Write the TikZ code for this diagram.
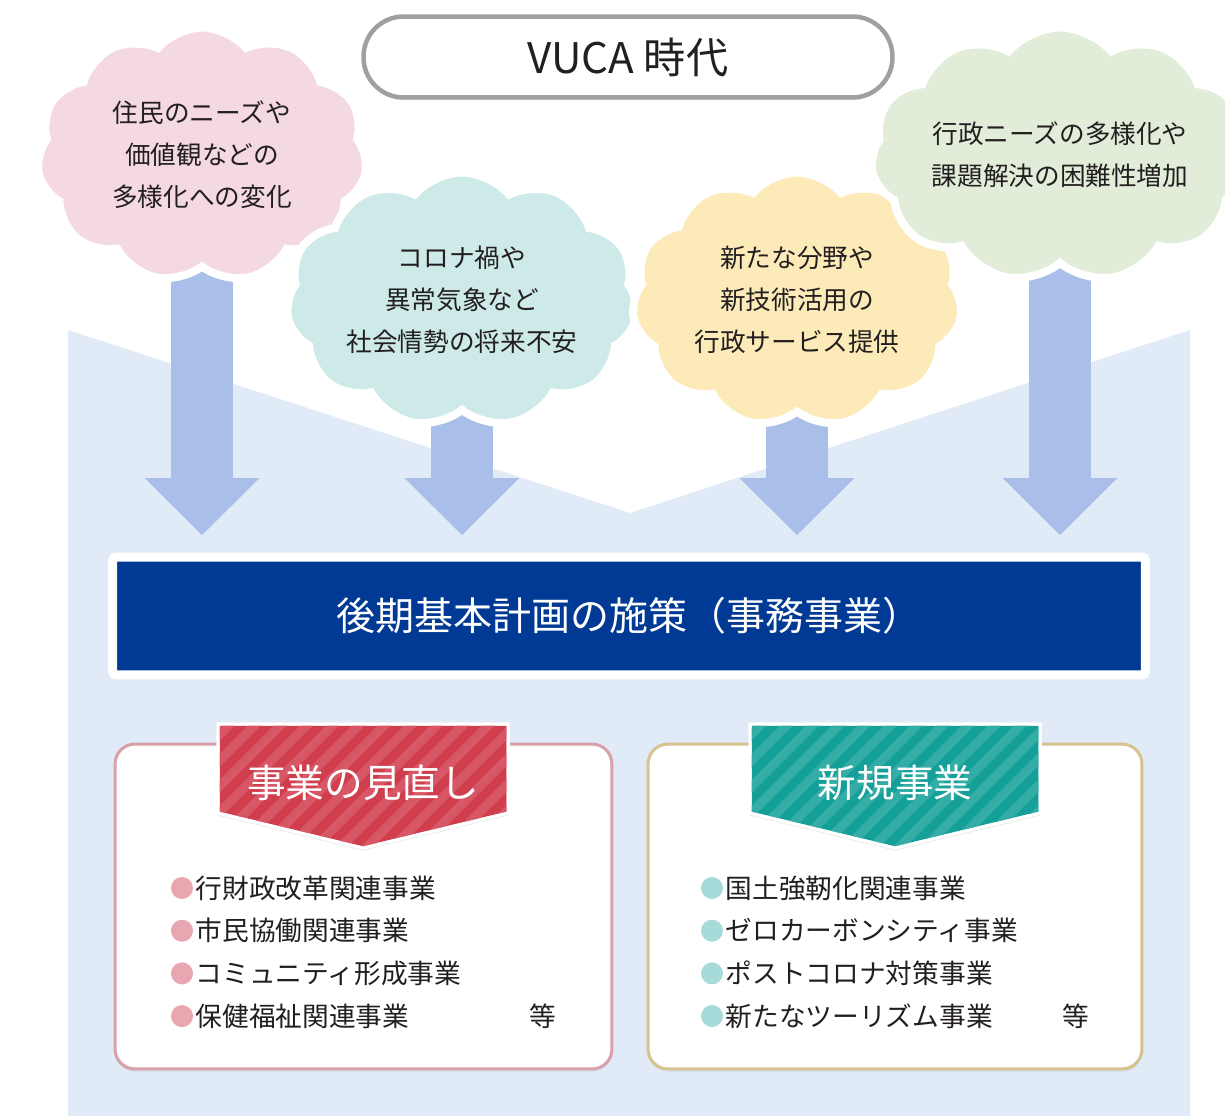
\documentclass[tikz,border=0pt]{standalone}
\usepackage{fontspec}
\setmainfont{Noto Sans CJK JP}
\usepackage{xcolor}
\usepackage{tikz}
\usetikzlibrary{shapes.symbols,arrows.meta,positioning,shadows,backgrounds}

\definecolor{ink}{HTML}{231F20}
\definecolor{skyback}{HTML}{E1EAF7}
\definecolor{flowblue}{HTML}{A9BEE8}
\definecolor{vucagray}{HTML}{A0A0A0}
\definecolor{cloudpink}{HTML}{F4D9E3}
\definecolor{cloudteal}{HTML}{CDEAE9}
\definecolor{cloudyellow}{HTML}{FCEBB8}
\definecolor{cloudgreen}{HTML}{E1EDD9}
\definecolor{plannavy}{HTML}{003A94}
\definecolor{revred}{HTML}{D03E4E}
\definecolor{revstripe}{HTML}{D75766}
\definecolor{newteal}{HTML}{14A099}
\definecolor{newstripe}{HTML}{33ADA6}
\definecolor{revline}{HTML}{D8A0A8}
\definecolor{newline}{HTML}{D6C38E}
\definecolor{revdot}{HTML}{E8A7B0}
\definecolor{newdot}{HTML}{A6DBDA}

\begin{document}
\begin{tikzpicture}[
  x=0.02cm, y=-0.02cm,
  softshadow/.style={
    drop shadow={opacity=0.15, shadow xshift=0pt, shadow yshift=-1.5pt}
  },
  cloudbox/.style={
    cloud,
    cloud puffs=11,
    cloud puff arc=100,
    cloud ignores aspect,
    minimum width=6.6cm,
    minimum height=5.1cm,
    draw=white,
    line width=0.16cm,
    align=center,
    text=ink,
    softshadow,
    font=\fontsize{14.6}{23.9}\selectfont
  },
  vucabox/.style={
    rectangle,
    rounded corners=0.8cm,
    draw=vucagray,
    line width=0.09cm,
    fill=white,
    minimum width=10.58cm,
    minimum height=1.62cm,
    text=ink,
    softshadow,
    font=\fontsize{24}{28}\selectfont
  },
  planbar/.style={
    rectangle,
    rounded corners=2pt,
    fill=plannavy,
    draw=white,
    line width=0.18cm,
    minimum width=20.66cm,
    minimum height=2.36cm,
    text=white,
    softshadow,
    font=\fontsize{22.2}{26}\selectfont
  },
  listbox/.style={
    rectangle,
    rounded corners=0.4cm,
    fill=white,
    line width=0.06cm,
    minimum height=6.5cm,
    softshadow
  },
  ribbontext/.style={
    text=white,
    font=\fontsize{22}{26}\selectfont
  },
  ribbonstripe/.style={
    line width=0.18cm
  },
  dot/.style={
    circle,
    inner sep=0pt,
    minimum size=0.44cm
  },
  item/.style={
    inner sep=0pt,
    text=ink,
    font=\fontsize{15.2}{18}\selectfont
  },
  flow/.style={
    flowblue,
    line width=1.24cm,
    -{Triangle[width=2.3cm,length=1.14cm,line width=0pt]}
  }
]
\useasboundingbox (0,0) rectangle (1225,1116);

% --- VUCA TITLE ---
\node[vucabox] (vuca) at (628,57) {VUCA 時代};

% --- CLOUDS ---
\node[cloudbox, fill=cloudpink] (needs) at (202,155) {住民のニーズや\\価値観などの\\多様化への変化};
\node[cloudbox, fill=cloudteal] (unrest) at (462,300) {コロナ禍や\\異常気象など\\社会情勢の将来不安};
\node[cloudbox, fill=cloudyellow] (tech) at (797,300) {新たな分野や\\新技術活用の\\行政サービス提供};
\node[cloudbox, fill=cloudgreen] (admin) at (1060,155) {行政ニーズの多様化や\\課題解決の困難性増加};

% --- PLAN BAR ---
\node[planbar] (plan) at (629,616) {後期基本計画の施策（事務事業）};
\coordinate (tipline) at (0,535);

% --- BACKGROUND AND FLOW ARROWS ---
\begin{scope}[on background layer]
  \fill[white] (0,0) rectangle (1225,1116);
  \fill[skyback] (68,330) -- (630,513) -- (1190,330) -- (1190,1116) -- (68,1116) -- cycle;
  \draw[flow] (needs.center) -- (needs.center |- tipline);
  \draw[flow] (unrest.center) -- (unrest.center |- tipline);
  \draw[flow] (tech.center) -- (tech.center |- tipline);
  \draw[flow] (admin.center) -- (admin.center |- tipline);
\end{scope}

% --- REVIEW BOX (Left) ---
\node[listbox, draw=revline, minimum width=9.94cm] (revbox) at (363.5,906.5) {};
\filldraw[revred, draw=white, line width=0.06cm, softshadow]
  (218,724) -- (508,724) -- (508,813) -- (363,848) -- (218,813) -- cycle;
\begin{scope}
  \clip (218,724) -- (508,724) -- (508,813) -- (363,848) -- (218,813) -- cycle;
  \foreach \s in {58,84,...,520}
    \draw[ribbonstripe, revstripe] (\s,870) -- ++(160,-160);
\end{scope}
\draw[white, line width=0.06cm]
  (218,724) -- (508,724) -- (508,813) -- (363,848) -- (218,813) -- cycle;
\node[ribbontext] (revtitle) at (363,783) {事業の見直し};

\foreach \t [count=\i] in {行財政改革関連事業, 市民協働関連事業, コミュニティ形成事業, 保健福祉関連事業} {
  \node[dot, fill=revdot] (revdot\i) at (182,{888+42.7*(\i-1)}) {};
  \node[item, right=0.04cm of revdot\i] (revitem\i) {\t};
}
\node[item] (revetc) at (543,1016) {等};

% --- NEW BOX (Right) ---
\node[listbox, draw=newline, minimum width=9.88cm] (newbox) at (895,906.5) {};
\filldraw[newteal, draw=white, line width=0.06cm, softshadow]
  (750,724) -- (1040,724) -- (1040,813) -- (895,848) -- (750,813) -- cycle;
\begin{scope}
  \clip (750,724) -- (1040,724) -- (1040,813) -- (895,848) -- (750,813) -- cycle;
  \foreach \s in {590,616,...,1052}
    \draw[ribbonstripe, newstripe] (\s,870) -- ++(160,-160);
\end{scope}
\draw[white, line width=0.06cm]
  (750,724) -- (1040,724) -- (1040,813) -- (895,848) -- (750,813) -- cycle;
\node[ribbontext] (newtitle) at (895,783) {新規事業};

\foreach \t [count=\i] in {国土強靭化関連事業, ゼロカーボンシティ事業, ポストコロナ対策事業, 新たなツーリズム事業} {
  \node[dot, fill=newdot] (newdot\i) at (712,{888+42.7*(\i-1)}) {};
  \node[item, right=0.04cm of newdot\i] (newitem\i) {\t};
}
\node[item] (newetc) at (1076,1016) {等};

\end{tikzpicture}
\end{document}
